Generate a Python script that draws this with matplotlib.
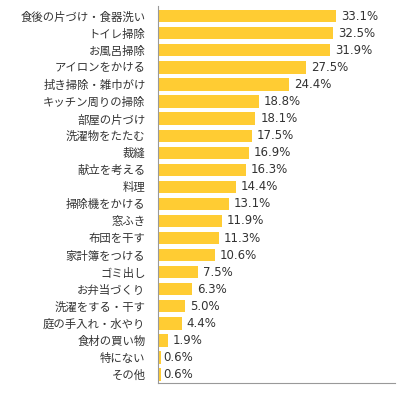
import matplotlib
matplotlib.use("Agg")
import matplotlib.pyplot as plt

categories = ["食後の片づけ・食器洗い", "トイレ掃除", "お風呂掃除", "アイロンをかける",
              "拭き掃除・雑巾がけ", "キッチン周りの掃除", "部屋の片づけ", "洗濯物をたたむ",
              "裁縫", "献立を考える", "料理", "掃除機をかける", "窓ふき", "布団を干す",
              "家計簿をつける", "ゴミ出し", "お弁当づくり", "洗濯をする・干す",
              "庭の手入れ・水やり", "食材の買い物", "特にない", "その他"]
values = [33.1, 32.5, 31.9, 27.5, 24.4, 18.8, 18.1, 17.5, 16.9, 16.3, 14.4, 13.1,
          11.9, 11.3, 10.6, 7.5, 6.3, 5.0, 4.4, 1.9, 0.6, 0.6]
value_labels = ["33.1%", "32.5%", "31.9%", "27.5%", "24.4%", "18.8%", "18.1%", "17.5%",
                "16.9%", "16.3%", "14.4%", "13.1%", "11.9%", "11.3%", "10.6%", "7.5%",
                "6.3%", "5.0%", "4.4%", "1.9%", "0.6%", "0.6%"]

plt.rcParams['font.family'] = ['Noto Sans CJK JP', 'DejaVu Sans']

fig = plt.figure(figsize=(4.0, 3.95), dpi=100)
ax = fig.add_axes([0.395, 0.03, 0.5925, 0.955])

n = len(categories)
ypos = list(range(n))
ax.barh(ypos, values, height=0.72, color="#FFCC33", edgecolor="none")
for y, v, lab in zip(ypos, values, value_labels):
    x = 1.0 if v < 1 else v + 0.9
    ax.text(x, y, lab, va="center", ha="left", fontsize=8.5, color="#333333",
            family="DejaVu Sans")

ax.set_yticks(ypos)
ax.set_yticklabels(categories, fontsize=8.2, color="#333333")
ax.set_ylim(n - 0.5, -0.6)
ax.set_xlim(0, 44)
ax.set_xticks([])
ax.tick_params(axis="y", length=0, pad=9)
for s in ["top", "right"]:
    ax.spines[s].set_visible(False)
ax.spines["left"].set_color("#999999")
ax.spines["bottom"].set_color("#999999")
ax.spines["left"].set_linewidth(0.8)
ax.spines["bottom"].set_linewidth(0.8)

fig.savefig("out.png", dpi=100)
